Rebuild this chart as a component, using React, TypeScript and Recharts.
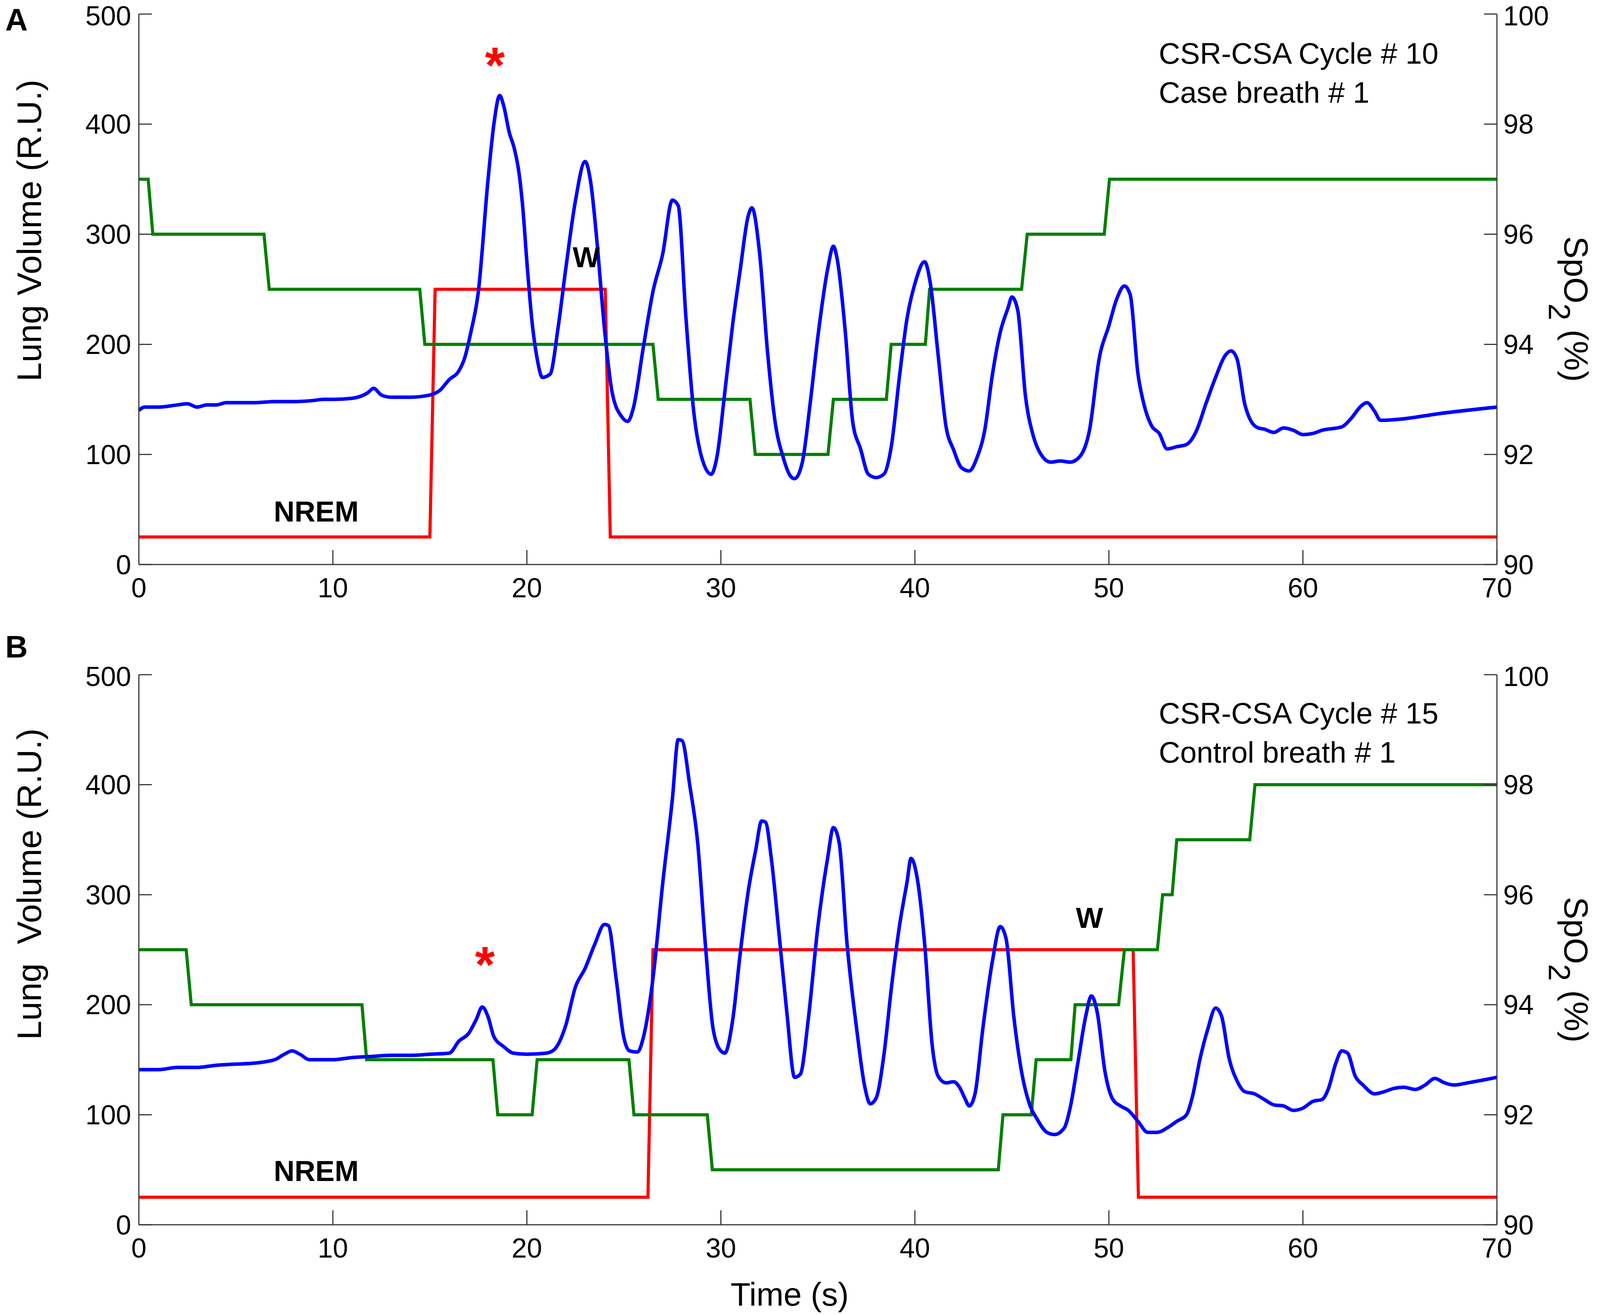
import React from 'react';
import { ComposedChart, Line, XAxis, YAxis, ReferenceDot } from 'recharts';

const FONT = '"Liberation Sans", Arial, Helvetica, sans-serif';
const AXIS_COLOR = '#3a3a3a';
// the figure is laid out on a 4563 x 3366 grid and fitted to the real viewport
const BASE_W = 4563;
const BASE_H = 3366;

const timeTicks = [0, 10, 20, 30, 40, 50, 60, 70];
const volumeTicks = [0, 100, 200, 300, 400, 500];
const spo2Ticks = [90, 92, 94, 96, 98, 100];

// ---- Panel A : case breath ----
const lungVolumeA: [number, number][] = [
  [0, 140], [0.3, 143], [1, 143], [2, 145], [2.5, 146], [3, 143], [3.5, 145], [4, 145],
  [4.5, 147], [5, 147], [6, 147], [7, 148], [8, 148], [9, 149], [9.5, 150], [10, 150],
  [11, 151], [11.8, 156], [12.1, 160], [12.5, 154], [13, 152], [14, 152], [15, 154],
  [15.5, 158], [16, 168], [16.5, 176], [16.8, 188], [17.1, 210], [17.5, 248], [18, 350],
  [18.3, 400], [18.6, 426], [18.8, 417], [19.1, 392], [19.35, 378], [19.6, 355], [19.8, 322],
  [20, 275], [20.27, 220], [20.53, 187], [20.8, 170], [21.2, 173], [21.6, 214], [22, 268],
  [22.5, 330], [23, 366], [23.3, 346], [23.6, 296], [24, 214], [24.4, 156], [24.9, 134],
  [25.2, 130], [25.5, 143], [26, 197], [26.5, 248], [27, 282], [27.5, 331], [27.8, 326],
  [28.2, 224], [28.6, 139], [29, 98], [29.5, 82], [29.8, 98], [30.2, 156], [30.6, 217],
  [31, 268], [31.4, 316], [31.6, 324], [32, 282], [32.4, 194], [32.8, 129], [33.2, 98],
  [33.6, 80], [33.8, 78], [34.2, 93], [34.6, 146], [35, 207], [35.5, 268], [35.8, 289],
  [36, 277], [36.4, 214], [36.8, 129], [37.2, 105], [37.6, 82], [38, 79], [38.4, 82],
  [38.8, 109], [39.2, 170], [39.6, 224], [40, 255], [40.5, 275], [40.8, 255], [41.2, 190],
  [41.6, 126], [42, 104], [42.4, 88], [42.8, 85], [43.2, 97], [43.6, 122], [44, 173],
  [44.4, 211], [44.8, 233], [45, 243], [45.3, 231], [45.7, 153], [46.1, 117], [46.5, 100],
  [47, 93], [47.5, 94], [48, 93], [48.5, 98], [49, 122], [49.5, 187], [50, 217],
  [50.4, 241], [50.8, 253], [51.1, 245], [51.5, 173], [51.8, 146], [52.2, 126], [52.6, 119],
  [53, 105], [53.5, 107], [54, 109], [54.5, 121], [55, 146], [55.5, 170], [56, 190],
  [56.3, 194], [56.6, 187], [57, 146], [57.3, 131], [57.7, 124], [58, 123], [58.5, 120],
  [59, 124], [59.5, 122], [60, 118], [60.5, 119], [61, 122], [62, 125], [62.5, 133],
  [63, 144], [63.3, 147], [63.7, 139], [64, 131], [65, 132], [67, 137], [70, 143],
];

const spo2A: [number, number][] = [
  [0, 97], [0.48, 97], [0.72, 96], [6.45, 96], [6.72, 95], [14.48, 95], [14.74, 94],
  [26.5, 94], [26.77, 93], [31.5, 93], [31.77, 92], [35.52, 92], [35.8, 93], [38.53, 93],
  [38.78, 94], [40.54, 94], [40.76, 95], [45.5, 95], [45.79, 96], [49.76, 96], [50.03, 97],
  [70, 97],
];

const sleepStageA: [number, number][] = [
  [0, 25], [15.0, 25], [15.27, 250], [24.04, 250], [24.3, 25], [70, 25],
];

// ---- Panel B : control breath ----
const lungVolumeB: [number, number][] = [
  [0, 141], [1, 141], [2, 143], [3, 143], [4, 145], [5, 146], [6, 147], [7, 150],
  [7.5, 155], [7.9, 158], [8.3, 155], [8.8, 150], [9.5, 150], [10, 150], [11, 152],
  [12, 153], [13, 154], [14, 154], [15, 155], [16, 156], [16.5, 167], [17, 174],
  [17.4, 187], [17.7, 198], [18, 189], [18.3, 171], [18.8, 162], [19.3, 156], [20, 155],
  [21, 156], [21.4, 159], [22, 181], [22.5, 216], [23, 233], [23.5, 255], [24, 273],
  [24.2, 272], [24.6, 224], [25, 170], [25.3, 158], [25.7, 157], [26, 170], [26.5, 224],
  [27, 310], [27.5, 387], [27.8, 441], [28, 440], [28.4, 399], [28.8, 348], [29.2, 255],
  [29.6, 178], [30, 158], [30.2, 156], [30.6, 185], [31, 247], [31.4, 302], [31.8, 341],
  [32.1, 367], [32.3, 366], [32.6, 333], [33, 264], [33.4, 193], [33.8, 134], [34.1, 137],
  [34.5, 186], [35, 271], [35.5, 333], [35.8, 361], [36.1, 347], [36.5, 256], [37, 178],
  [37.4, 127], [37.7, 110], [38, 115], [38.4, 154], [38.8, 217], [39.2, 271], [39.6, 312],
  [39.8, 333], [40.1, 317], [40.5, 256], [40.9, 162], [41.2, 135], [41.6, 129], [42, 130],
  [42.3, 125], [42.6, 114], [42.8, 108], [43.1, 119], [43.5, 178], [44, 240], [44.4, 271],
  [44.7, 260], [45.1, 189], [45.5, 139], [45.9, 110], [46.3, 96], [46.8, 84], [47.2, 82],
  [47.7, 88], [48, 106], [48.4, 147], [48.8, 189], [49.1, 208], [49.4, 193], [49.8, 139],
  [50.2, 114], [50.6, 108], [51, 104], [51.5, 94], [52, 84], [52.5, 84], [53, 88],
  [53.5, 94], [54, 100], [54.3, 116], [54.7, 151], [55.1, 178], [55.5, 197], [55.8, 190],
  [56.2, 151], [56.6, 131], [57, 121], [57.5, 119], [58, 114], [58.5, 109], [59, 108],
  [59.5, 104], [60, 106], [60.5, 112], [61, 114], [61.3, 123], [61.7, 147], [62, 158],
  [62.3, 156], [62.7, 135], [63.1, 127], [63.7, 119], [64.2, 121], [64.7, 124], [65.2, 125],
  [65.8, 123], [66.3, 127], [66.8, 133], [67.3, 129], [67.8, 127], [68.5, 129], [70, 134],
];

const spo2B: [number, number][] = [
  [0, 95], [2.44, 95], [2.7, 94], [11.5, 94], [11.74, 93], [18.25, 93], [18.5, 92],
  [20.27, 92], [20.53, 93], [25.26, 93], [25.52, 92], [29.3, 92], [29.56, 91], [44.3, 91],
  [44.54, 92], [46.0, 92], [46.25, 93], [48.04, 93], [48.26, 94], [50.5, 94], [50.8, 95],
  [52.5, 95], [52.77, 96], [53.26, 96], [53.5, 97], [57.26, 97], [57.53, 98], [70, 98],
];

const sleepStageB: [number, number][] = [
  [0, 25], [26.24, 25], [26.5, 250], [51.25, 250], [51.52, 25], [70, 25],
];

// annotation anchors (time, lung volume)
type Note = { t: number; v: number; text: string; kind: 'star' | 'stage' | 'info' };

const notesA: Note[] = [
  { t: 18.35, v: 463, text: '*', kind: 'star' },
  { t: 23.06, v: 270, text: 'W', kind: 'stage' },
  { t: 9.14, v: 39, text: 'NREM', kind: 'stage' },
  { t: 52.57, v: 455, text: 'CSR-CSA Cycle # 10', kind: 'info' },
  { t: 52.57, v: 419.5, text: 'Case breath # 1', kind: 'info' },
];

const notesB: Note[] = [
  { t: 17.84, v: 246, text: '*', kind: 'star' },
  { t: 49.0, v: 270, text: 'W', kind: 'stage' },
  { t: 9.14, v: 39.8, text: 'NREM', kind: 'stage' },
  { t: 52.57, v: 455.6, text: 'CSR-CSA Cycle # 15', kind: 'info' },
  { t: 52.57, v: 420, text: 'Control breath # 1', kind: 'info' },
];

const toRows = (pts: [number, number][], key: string) =>
  pts.map(([t, v]) => ({ t, [key]: v }));

interface Fit {
  sx: number;
  sy: number;
  fs: number;
}

const makeTicks = (f: Fit) => {
  const tickW = 3;
  const lenX = 37 * f.sx;
  const lenY = 37 * f.sy;
  const size = 74 * f.fs;
  // keep the top labels (500 / 100) inside the picture
  const labelY = (y: number) => Math.max(y + 26 * f.fs, size * 0.92);

  const Bottom = (props: any) => {
    const { x, y, payload } = props;
    return (
      <g>
        <line x1={x} x2={x} y1={y} y2={y - lenY} stroke={AXIS_COLOR} strokeWidth={tickW} />
        <text x={x} y={y + 84 * f.sy} textAnchor="middle" fontFamily={FONT} fontSize={size} fill="#000">
          {payload.value}
        </text>
      </g>
    );
  };
  const Top = (props: any) => {
    const { x, y } = props;
    return <line x1={x} x2={x} y1={y} y2={y + lenY} stroke={AXIS_COLOR} strokeWidth={tickW} />;
  };
  const Left = (props: any) => {
    const { x, y, payload } = props;
    return (
      <g>
        <line x1={x} x2={x + lenX} y1={y} y2={y} stroke={AXIS_COLOR} strokeWidth={tickW} />
        <text x={x - 22 * f.sx} y={labelY(y)} textAnchor="end" fontFamily={FONT} fontSize={size} fill="#000">
          {payload.value}
        </text>
      </g>
    );
  };
  const Right = (props: any) => {
    const { x, y, payload } = props;
    return (
      <g>
        <line x1={x} x2={x - lenX} y1={y} y2={y} stroke={AXIS_COLOR} strokeWidth={tickW} />
        <text x={x + 18 * f.sx} y={labelY(y)} textAnchor="start" fontFamily={FONT} fontSize={size} fill="#000">
          {payload.value}
        </text>
      </g>
    );
  };
  return { Bottom, Top, Left, Right };
};

const renderNote = (note: Note, f: Fit) => (p: any) => {
  const { cx, cy } = p;
  if (note.kind === 'star') {
    return (
      <text x={cx} y={cy + 76 * f.fs} textAnchor="middle" fontFamily={FONT} fontWeight="bold"
        fontSize={138 * f.fs} fill="#ff0000">
        {note.text}
      </text>
    );
  }
  if (note.kind === 'stage') {
    return (
      <text x={cx} y={cy} textAnchor="middle" fontFamily={FONT} fontWeight="bold"
        fontSize={78 * f.fs} fill="#000">
        {note.text}
      </text>
    );
  }
  return (
    <text x={cx} y={cy} textAnchor="start" fontFamily={FONT} fontSize={80 * f.fs} fill="#000">
      {note.text}
    </text>
  );
};

interface PanelProps {
  fit: Fit;
  volume: [number, number][];
  spo2: [number, number][];
  stage: [number, number][];
  notes: Note[];
  volumeLabel: string;
  labelCenter: number;
  height: number;
  bottomMargin: number;
  timeLabel?: boolean;
}

function Panel({ fit, volume, spo2, stage, notes, volumeLabel, labelCenter, height, bottomMargin, timeLabel }: PanelProps) {
  const { sx, sy, fs } = fit;
  const T = makeTicks(fit);
  const axisLine = { stroke: AXIS_COLOR, strokeWidth: 3 };
  return (
    <ComposedChart
      width={BASE_W * sx}
      height={height * sy}
      margin={{ top: 36 * sy, right: 0, bottom: bottomMargin * sy, left: 0 }}
    >
      <XAxis
        xAxisId="time"
        dataKey="t"
        type="number"
        domain={[0, 70]}
        ticks={timeTicks}
        interval={0}
        height={120 * sy}
        tickSize={0}
        tickMargin={0}
        tickLine={false}
        axisLine={axisLine}
        tick={<T.Bottom />}
        label={
          timeLabel
            ? () => (
                <text x={2252 * sx} y={1651 * sy} textAnchor="middle" fontFamily={FONT}
                  fontSize={88 * fs} fill="#000">
                  Time (s)
                </text>
              )
            : undefined
        }
      />
      <XAxis
        xAxisId="top"
        dataKey="t"
        type="number"
        orientation="top"
        domain={[0, 70]}
        ticks={timeTicks}
        interval={0}
        height={0}
        tickSize={0}
        tickMargin={0}
        tickLine={false}
        axisLine={axisLine}
        tick={<T.Top />}
      />
      <YAxis
        yAxisId="vol"
        orientation="left"
        type="number"
        domain={[0, 500]}
        ticks={volumeTicks}
        interval={0}
        width={396 * sx}
        tickSize={0}
        tickMargin={0}
        tickLine={false}
        axisLine={axisLine}
        tick={<T.Left />}
        label={() => (
          <text transform={`translate(${117 * sx},${labelCenter * sy}) rotate(-90)`}
            textAnchor="middle" fontFamily={FONT} fontSize={88 * sy} fill="#000">
            {volumeLabel}
          </text>
        )}
      />
      <YAxis
        yAxisId="spo2"
        orientation="right"
        type="number"
        domain={[90, 100]}
        ticks={spo2Ticks}
        interval={0}
        width={294 * sx}
        tickSize={0}
        tickMargin={0}
        tickLine={false}
        axisLine={axisLine}
        tick={<T.Right />}
        label={() => (
          <text transform={`translate(${4462 * sx},${791 * sy}) rotate(90)`} textAnchor="middle"
            fontFamily={FONT} fontSize={86 * sy} fill="#000">
            SpO
            <tspan dy={40 * sy} fontSize={78 * sy}>2</tspan>
            <tspan dy={-40 * sy}> (%)</tspan>
          </text>
        )}
      />
      <Line
        xAxisId="time"
        yAxisId="vol"
        data={toRows(stage, 'stage')}
        dataKey="stage"
        type="linear"
        stroke="#ff0000"
        strokeWidth={8}
        dot={false}
        isAnimationActive={false}
      />
      <Line
        xAxisId="time"
        yAxisId="spo2"
        data={toRows(spo2, 'spo2')}
        dataKey="spo2"
        type="linear"
        stroke="#007f00"
        strokeWidth={8}
        dot={false}
        isAnimationActive={false}
      />
      <Line
        xAxisId="time"
        yAxisId="vol"
        data={toRows(volume, 'volume')}
        dataKey="volume"
        type="monotoneX"
        stroke="#0000ff"
        strokeWidth={9}
        dot={false}
        isAnimationActive={false}
      />
      {notes.map((n, i) => (
        <ReferenceDot
          key={i}
          xAxisId="time"
          yAxisId="vol"
          x={n.t}
          y={n.v}
          r={0}
          ifOverflow="visible"
          shape={renderNote(n, fit)}
        />
      ))}
    </ComposedChart>
  );
}

export default function App() {
  const vw = typeof window !== 'undefined' ? window.innerWidth : BASE_W;
  const vh = typeof window !== 'undefined' ? window.innerHeight : BASE_H;
  const sx = Math.min(1, vw / BASE_W);
  const sy = Math.min(1, vh / BASE_H);
  const fit: Fit = { sx, sy, fs: Math.sqrt(sx * sy) };

  return (
    <div
      style={{
        position: 'absolute',
        left: 0,
        top: 0,
        width: BASE_W * sx,
        height: BASE_H * sy,
        overflow: 'hidden',
        background: '#fff',
      }}
    >
      <div style={{ position: 'absolute', left: 0, top: 0 }}>
        <Panel
          fit={fit}
          volume={lungVolumeA}
          spo2={spo2A}
          stage={sleepStageA}
          notes={notesA}
          volumeLabel="Lung Volume (R.U.)"
          labelCenter={590}
          height={1600}
          bottomMargin={35}
        />
      </div>
      <div style={{ position: 'absolute', left: 0, top: 1691 * sy }}>
        <Panel
          fit={fit}
          volume={lungVolumeB}
          spo2={spo2B}
          stage={sleepStageB}
          notes={notesB}
          volumeLabel={'Lung\u00a0 Volume (R.U.)'}
          labelCenter={572}
          height={1675}
          bottomMargin={111}
          timeLabel
        />
      </div>
      <svg width={BASE_W * sx} height={BASE_H * sy}
        style={{ position: 'absolute', left: 0, top: 0, pointerEvents: 'none' }}>
        <text x={15 * sx} y={78 * sy} fontFamily={FONT} fontWeight="bold" fontSize={84 * fit.fs} fill="#000">A</text>
        <text x={15 * sx} y={1683 * sy} fontFamily={FONT} fontWeight="bold" fontSize={84 * fit.fs} fill="#000">B</text>
      </svg>
    </div>
  );
}
